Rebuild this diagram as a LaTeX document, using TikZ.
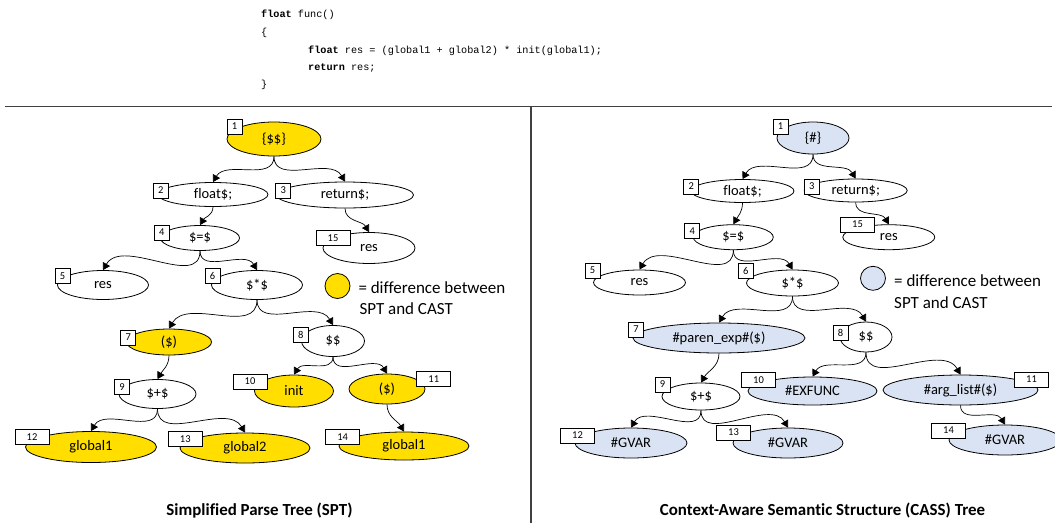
\documentclass[tikz,border=0pt]{standalone}
\usepackage{fontspec}
\setmainfont{Carlito}[Ligatures=NoCommon]
\newfontfamily\codefont{Liberation Mono}
\usetikzlibrary{shapes.geometric,arrows.meta}
\definecolor{ygold}{RGB}{255,222,0}
\definecolor{lblue}{RGB}{218,227,243}
\definecolor{sepcol}{RGB}{64,64,64}
\begin{document}
\begin{tikzpicture}[x=1pt,y=-1pt,
  el/.style={draw,ellipse,inner sep=0pt,line width=0.8pt,font=\fontsize{14.5}{16}\selectfont},
  yl/.style={el,fill=ygold},
  bl/.style={el,fill=lblue},
  wh/.style={el,fill=white},
  sz/.style 2 args={minimum width=#1pt,minimum height=#2pt},
  nb/.style={draw,fill=white,rectangle,inner sep=0pt,minimum width=15pt,minimum height=15pt,line width=0.8pt,font=\fontsize{10.5}{11}\selectfont},
  nbw/.style={nb,minimum width=34pt},
  arr/.style={-{Triangle[length=7pt,width=8pt]},line width=0.7pt},
  lc/.style={out=-90,in=60},
  rc/.style={out=-90,in=120},
  code/.style={anchor=base west,inner sep=0pt,font=\codefont\fontsize{10.2}{12}\selectfont},
  leg/.style={anchor=base west,inner sep=0pt,font=\fontsize{17}{20}\selectfont},
  ttl/.style={inner sep=0pt,font=\fontsize{16.9}{20}\selectfont\bfseries},
  sepline/.style={draw=sepcol,line width=1.5pt}
]
\useasboundingbox (0,0) rectangle (1055,523);

% code
\node[code] (c1) at (261,17) {\textbf{float} func()};
\node[code] (c2) at (261,35) {\{};
\node[code] (c3) at (308,53) {\textbf{float} res = (global1 + global2) * init(global1);};
\node[code] (c4) at (308,70) {\textbf{return} res;};
\node[code] (c5) at (261,87) {\}};

% separators
\coordinate (hl) at (5,106.5);
\coordinate (hr) at (1052,106.5);
\coordinate (vt) at (531,106.5);
\coordinate (vb) at (531,523);
\draw[sepline] (hl) -- (hr);
\draw[sepline] (vt) -- (vb);

% ---------- left tree (SPT)
\node[yl,sz={94}{34}] (L1) at (274,139) {\{\$\$\}};
\node[wh,sz={110}{24}] (L2) at (213,194.5) {float\$;};
\node[wh,sz={137}{26}] (L3) at (345,195) {return\$;};
\node[wh,sz={79}{25}] (L4) at (200,238) {\$=\$};
\node[wh,sz={92}{31}] (L15) at (369,248) {res};
\node[wh,sz={91}{29}] (L5) at (103,285) {res};
\node[wh,sz={91}{29}] (L6) at (257,285) {\$*\$};
\node[yl,sz={85}{26}] (L7) at (169,342) {(\$)};
\node[wh,sz={63}{31}] (L8) at (333,341) {\$\$};
\node[wh,sz={77}{29}] (L9) at (157.5,394) {\$+\$};
\node[yl,sz={79}{32}] (L10) at (294,391) {init};
\node[yl,sz={76}{30}] (L11) at (387,389) {(\$)};
\node[yl,sz={131}{31}] (L12) at (91,447) {global1};
\node[yl,sz={130}{30}] (L13) at (245,448) {global2};
\node[yl,sz={130}{28}] (L14) at (404,446) {global1};

\draw[arr] (L1.south) to[lc] (L2.north);
\draw[arr] (L1.south) to[rc] (L3.north);
\draw[arr] (L2.south) to[lc] (L4.north);
\draw[arr] (L3.south) to[rc] (L15.north);
\draw[arr] (L4.south) to[lc] (L5.north);
\draw[arr] (L4.south) to[rc] (L6.north);
\draw[arr] (L6.south) to[lc] (L7.north);
\draw[arr] (L6.south) to[rc] (L8.north);
\draw[arr] (L7.south) to[lc] (L9.north);
\draw[arr] (L8.south) to[lc] (L10.north);
\draw[arr] (L8.south) to[rc] (L11.north);
\draw[arr] (L9.south) to[lc] (L12.north);
\draw[arr] (L9.south) to[rc] (L13.north);
\draw[arr] (L11.south) to[rc] (L14.north);

\node[nb] (lb1) at (234.5,126.5) {1};
\node[nb] (lb2) at (160.8,190.5) {2};
\node[nb] (lb3) at (283.3,190.5) {3};
\node[nb] (lb4) at (161.7,232.5) {4};
\node[nbw] (lb15) at (333,238.3) {15};
\node[nb] (lb5) at (62.5,276.3) {5};
\node[nb] (lb6) at (212.5,276.3) {6};
\node[nb] (lb7) at (128.3,337.5) {7};
\node[nb] (lb8) at (300.8,334.5) {8};
\node[nb] (lb9) at (122,386.7) {9};
\node[nbw] (lb10) at (250,381.5) {10};
\node[nbw] (lb11) at (433.8,379.2) {11};
\node[nbw] (lb12) at (32,437.2) {12};
\node[nbw] (lb13) at (185.3,439.2) {13};
\node[nbw] (lb14) at (342.7,437.2) {14};

\node[yl,sz={25}{25}] (llegc) at (337.5,286) {};
\node[leg] (lleg1) at (358.3,293) {= difference between};
\node[leg] (lleg2) at (359.3,314.6) {SPT and CAST};
\node[ttl] (lt) at (259.5,510.5) {Simplified Parse Tree (SPT)};

% ---------- right tree (CASS)
\node[bl,sz={72}{32}] (R1) at (813,138) {\{\#\}};
\node[wh,sz={103}{23}] (R2) at (742.5,191) {float\$;};
\node[wh,sz={103}{23}] (R3) at (855.7,190.5) {return\$;};
\node[wh,sz={80}{25}] (R4) at (733.3,237.2) {\$=\$};
\node[wh,sz={92}{25}] (R15) at (888.8,237.2) {res};
\node[wh,sz={92}{25}] (R5) at (639.5,282.5) {res};
\node[wh,sz={92}{26}] (R6) at (792.5,283) {\$*\$};
\node[bl,sz={172}{30}] (R7) at (719,338) {\#paren\_exp\#(\$)};
\node[wh,sz={52}{30}] (R8) at (866,337) {\$\$};
\node[wh,sz={78}{27}] (R9) at (701,396.5) {\$+\$};
\node[bl,sz={129}{28}] (R10) at (812.5,391) {\#EXFUNC};
\node[bl,sz={155}{30}] (R11) at (960.5,390) {\#arg\_list\#(\$)};
\node[bl,sz={112}{30}] (R12) at (631,443) {\#GVAR};
\node[bl,sz={110}{30}] (R13) at (788,443) {\#GVAR};
\node[bl,sz={112}{30}] (R14) at (1005,440) {\#GVAR};

\draw[arr] (R1.south) to[lc] (R2.north);
\draw[arr] (R1.south) to[rc] (R3.north);
\draw[arr] (R2.south) to[lc] (R4.north);
\draw[arr] (R3.south) to[rc] (R15.north);
\draw[arr] (R4.south) to[lc] (R5.north);
\draw[arr] (R4.south) to[rc] (R6.north);
\draw[arr] (R6.south) to[lc] (R7.north);
\draw[arr] (R6.south) to[rc] (R8.north);
\draw[arr] (R7.south) to[lc] (R9.north);
\draw[arr] (R8.south) to[lc] (R10.north);
\draw[arr] (R8.south) to[rc] (R11.north);
\draw[arr] (R9.south) to[lc] (R12.north);
\draw[arr] (R9.south) to[rc] (R13.north);
\draw[arr] (R11.south) to[rc] (R14.north);

\node[nb] (rb1) at (780.5,126.5) {1};
\node[nb] (rb2) at (691.2,186.5) {2};
\node[nb] (rb3) at (811.7,186.5) {3};
\node[nb] (rb4) at (692.2,231.2) {4};
\node[nbw] (rb15) at (857.5,224.5) {15};
\node[nb] (rb5) at (592.5,270.5) {5};
\node[nb] (rb6) at (745.8,270.5) {6};
\node[nb] (rb7) at (636,329.5) {7};
\node[nb] (rb8) at (840.5,332.5) {8};
\node[nb] (rb9) at (662.5,384.5) {9};
\node[nbw] (rb10) at (758.5,380) {10};
\node[nbw] (rb11) at (1031.5,379.5) {11};
\node[nbw] (rb12) at (577.5,435.5) {12};
\node[nbw] (rb13) at (733.5,432.5) {13};
\node[nbw] (rb14) at (948.5,430.5) {14};

\node[bl,sz={25}{24}] (rlegc) at (873,278.3) {};
\node[leg] (rleg1) at (894,286.7) {= difference between};
\node[leg] (rleg2) at (894,308.3) {SPT and CAST};
\node[ttl] (rt) at (822.5,510.5) {Context-Aware Semantic Structure (CASS) Tree};
\end{tikzpicture}
\end{document}
